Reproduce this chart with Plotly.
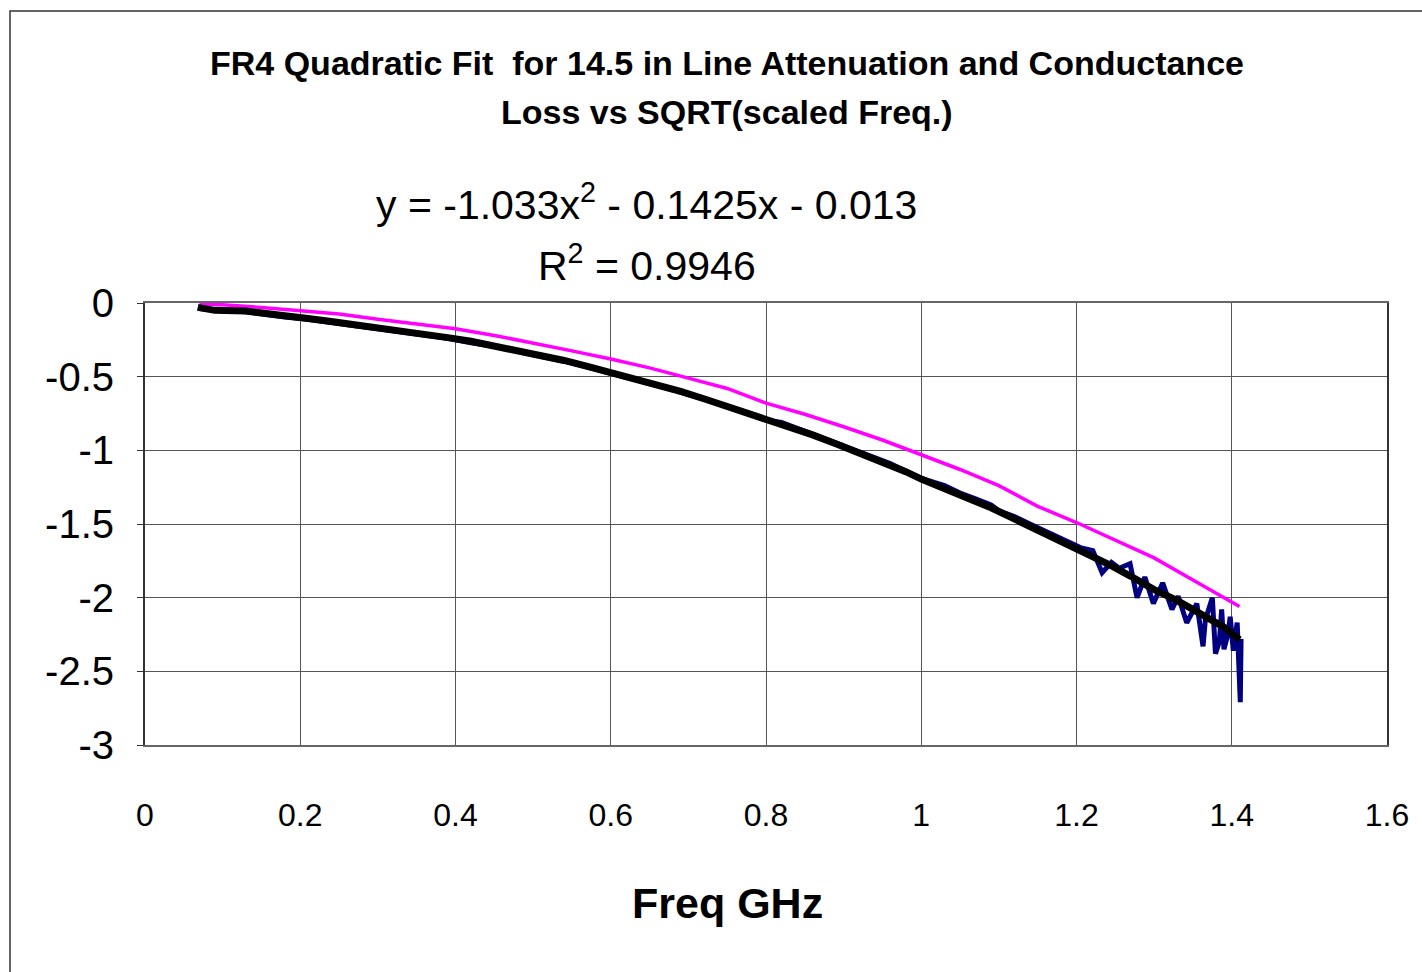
import plotly.graph_objects as go

# Measured attenuation (blue)
meas_x = [0.068, 0.09, 0.13, 0.15, 0.18, 0.21, 0.24, 0.27, 0.30, 0.33, 0.36, 0.39, 0.42, 0.45,
          0.47, 0.49, 0.51, 0.54, 0.57, 0.60, 0.62, 0.64, 0.66, 0.69, 0.72, 0.75, 0.78, 0.80,
          0.82, 0.85, 0.88, 0.90, 0.93, 0.96, 0.98, 1.00, 1.03, 1.05, 1.07, 1.09, 1.10, 1.12,
          1.14, 1.16, 1.175, 1.19, 1.205, 1.221, 1.233, 1.245, 1.255, 1.269, 1.278, 1.288,
          1.299, 1.311, 1.323, 1.331, 1.342, 1.355, 1.363, 1.366, 1.375, 1.379, 1.384, 1.387,
          1.390, 1.395, 1.398, 1.402, 1.405, 1.407, 1.411, 1.412]
meas_y = [-0.035, -0.05, -0.06, -0.075, -0.095, -0.11, -0.135, -0.155, -0.175, -0.195, -0.22,
          -0.24, -0.27, -0.295, -0.31, -0.34, -0.36, -0.395, -0.435, -0.475, -0.50, -0.53,
          -0.56, -0.605, -0.65, -0.70, -0.75, -0.795, -0.81, -0.87, -0.93, -0.965, -1.03,
          -1.09, -1.14, -1.19, -1.24, -1.29, -1.33, -1.37, -1.41, -1.45, -1.50, -1.55, -1.59,
          -1.63, -1.66, -1.68, -1.83, -1.76, -1.80, -1.77, -2.00, -1.86, -2.04, -1.90, -2.08,
          -1.99, -2.17, -2.04, -2.33, -2.15, -2.00, -2.38, -2.30, -2.08, -2.35, -2.25, -2.13,
          -2.36, -2.22, -2.17, -2.71, -2.28]

# Smoothed / fitted attenuation (black)
fit_x = [0.068, 0.09, 0.13, 0.15, 0.18, 0.21, 0.24, 0.27, 0.30, 0.33, 0.36, 0.39, 0.42, 0.45,
         0.48, 0.51, 0.54, 0.57, 0.60, 0.63, 0.66, 0.69, 0.72, 0.75, 0.78, 0.80, 0.83, 0.86,
         0.89, 0.92, 0.95, 0.98, 1.00, 1.03, 1.06, 1.09, 1.12, 1.15, 1.18, 1.21, 1.24, 1.27,
         1.30, 1.33, 1.36, 1.39, 1.41]
fit_y = [-0.030, -0.05, -0.055, -0.07, -0.09, -0.105, -0.125, -0.145, -0.165, -0.185, -0.21,
         -0.235, -0.26, -0.29, -0.32, -0.355, -0.39, -0.43, -0.47, -0.51, -0.555, -0.60,
         -0.65, -0.70, -0.755, -0.785, -0.835, -0.895, -0.955, -1.015, -1.08, -1.145, -1.195,
         -1.255, -1.325, -1.39, -1.465, -1.54, -1.615, -1.695, -1.77, -1.855, -1.945, -2.02,
         -2.11, -2.20, -2.285]

# Conductance loss (magenta)
cond_x = [0.07, 0.10, 0.15, 0.20, 0.25, 0.30, 0.35, 0.40, 0.45, 0.50, 0.55, 0.60, 0.65, 0.70,
          0.75, 0.80, 0.85, 0.90, 0.95, 1.00, 1.05, 1.10, 1.15, 1.20, 1.25, 1.30, 1.35, 1.40, 1.41]
cond_y = [-0.005, -0.012, -0.03, -0.05, -0.075, -0.11, -0.14, -0.175, -0.22, -0.27, -0.325,
          -0.38, -0.44, -0.51, -0.58, -0.68, -0.755, -0.84, -0.93, -1.03, -1.13, -1.24, -1.38,
          -1.49, -1.61, -1.73, -1.88, -2.03, -2.06]

x_ticks = [0, 0.2, 0.4, 0.6, 0.8, 1, 1.2, 1.4, 1.6]
y_ticks = [0, -0.5, -1, -1.5, -2, -2.5, -3]

title_line1 = "FR4 Quadratic Fit  for 14.5 in Line Attenuation and Conductance"
title_line2 = "Loss vs SQRT(scaled Freq.)"
eq_text = "y = -1.033x<sup>2</sup> - 0.1425x - 0.013"
r2_text = "R<sup>2</sup> = 0.9946"
x_title = "Freq GHz"

FONT = "Liberation Sans, Arial, sans-serif"

fig = go.Figure()
fig.add_trace(go.Scatter(x=cond_x, y=cond_y, mode="lines",
                         line=dict(color="#FF00FF", width=3.5), showlegend=False))
fig.add_trace(go.Scatter(x=meas_x, y=meas_y, mode="lines",
                         line=dict(color="#000080", width=5), showlegend=False))
fig.add_trace(go.Scatter(x=fit_x, y=fit_y, mode="lines",
                         line=dict(color="#000000", width=7), showlegend=False))

W, H = 1422, 972
L, R, T, B = 145, 35, 303, 227
pw, ph = W - L - R, H - T - B

def px(xp):
    return (xp - L) / pw

def py(yp):
    return (H - B - yp) / ph

fig.update_layout(
    width=W, height=H,
    margin=dict(l=L, r=R, t=T, b=B, pad=0),
    paper_bgcolor="white", plot_bgcolor="white",
    font=dict(family=FONT, color="black"),
    xaxis=dict(range=[0, 1.6], tickvals=x_ticks, ticktext=[f"{v:g}" for v in x_ticks],
               showgrid=True, gridcolor="#555555", gridwidth=1, zeroline=False,
               showline=True, linecolor="#666666", linewidth=2, mirror=True,
               ticks="", ticklabelstandoff=41,
               tickfont=dict(size=32, family=FONT, color="black")),
    yaxis=dict(range=[-3, 0], tickvals=y_ticks, ticktext=[f"{v:g}" for v in y_ticks],
               showgrid=True, gridcolor="#555555", gridwidth=1, zeroline=False,
               showline=True, linecolor="#333333", linewidth=2, mirror=True,
               ticks="outside", ticklen=6, tickcolor="#333333", ticklabelstandoff=15,
               tickfont=dict(size=40, family=FONT, color="black")),
    shapes=[dict(type="rect", xref="paper", yref="paper",
                 x0=px(10), x1=px(1440), y0=py(990), y1=py(11),
                 line=dict(color="#333333", width=1.5), fillcolor="rgba(0,0,0,0)", layer="above")],
    annotations=[
        dict(text=f"<b>{title_line1}</b>", x=px(727), y=py(63), xref="paper", yref="paper",
             showarrow=False, xanchor="center", yanchor="middle", font=dict(size=34, family=FONT)),
        dict(text=f"<b>{title_line2}</b>", x=px(727), y=py(112), xref="paper", yref="paper",
             showarrow=False, xanchor="center", yanchor="middle", font=dict(size=34, family=FONT)),
        dict(text=eq_text, x=px(646), y=py(202), xref="paper", yref="paper",
             showarrow=False, xanchor="center", yanchor="middle", font=dict(size=41, family=FONT)),
        dict(text=r2_text, x=px(647), y=py(263), xref="paper", yref="paper",
             showarrow=False, xanchor="center", yanchor="middle", font=dict(size=41, family=FONT)),
        dict(text=f"<b>{x_title}</b>", x=px(727), y=py(903), xref="paper", yref="paper",
             showarrow=False, xanchor="center", yanchor="middle", font=dict(size=43, family=FONT)),
    ],
)

fig.write_html("out.html")
